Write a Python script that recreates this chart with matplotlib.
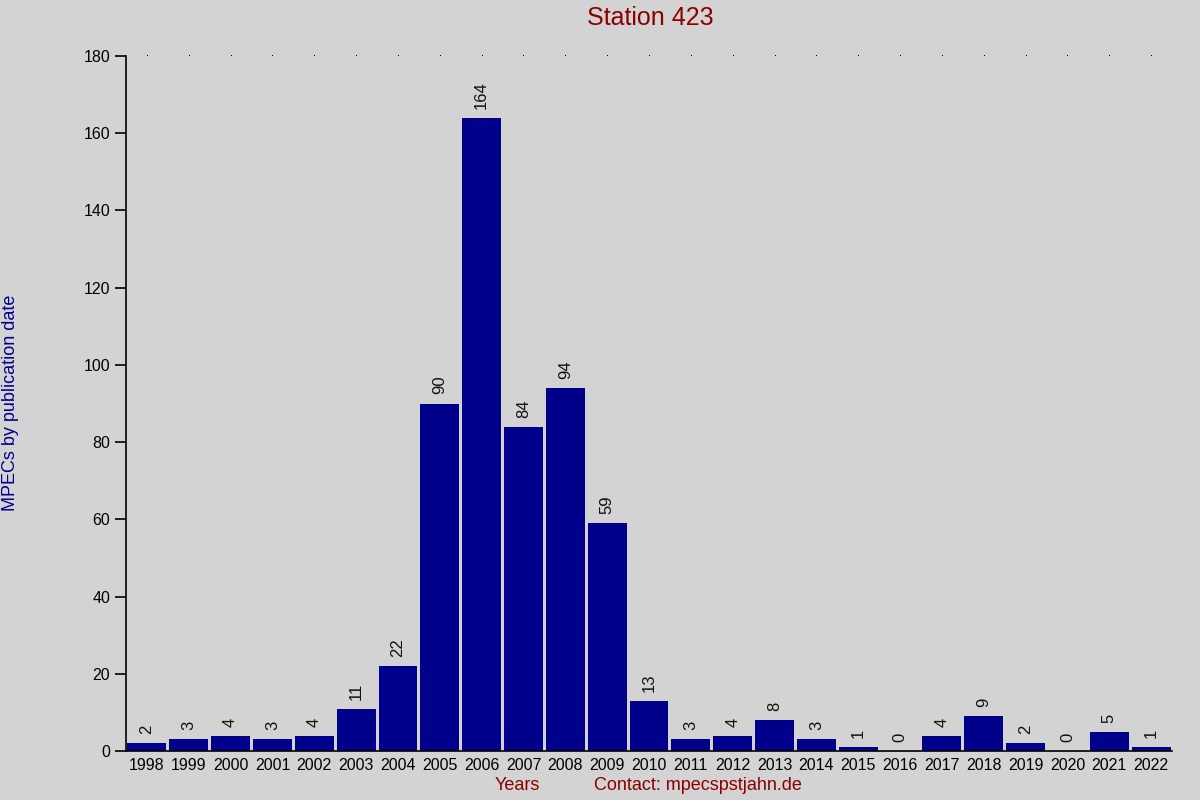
import numpy as np
import matplotlib
matplotlib.use("Agg")
import matplotlib.pyplot as plt

plt.rcParams['font.family'] = ['Liberation Sans', 'DejaVu Sans']

years = ['1998', '1999', '2000', '2001', '2002', '2003', '2004', '2005', '2006',
         '2007', '2008', '2009', '2010', '2011', '2012', '2013', '2014', '2015',
         '2016', '2017', '2018', '2019', '2020', '2021', '2022']
counts = [2, 3, 4, 3, 4, 11, 22, 90, 164, 84, 94, 59, 13, 3, 4, 8, 3, 1,
          0, 4, 9, 2, 0, 5, 1]
yticks = [0, 20, 40, 60, 80, 100, 120, 140, 160, 180]

bg = '#d3d3d3'
fig = plt.figure(figsize=(12, 8), dpi=100, facecolor=bg)
ax = fig.add_axes([126 / 1200, 49 / 800, 1046 / 1200, 695 / 800])
ax.set_facecolor(bg)

x = np.arange(len(years))
ax.bar(x, counts, width=0.93, color='#00008b', zorder=2)
for xi, c in zip(x, counts):
    ax.annotate(str(c), (xi, c), xytext=(0, 6.5), textcoords='offset points',
                rotation=90, ha='center', va='bottom', fontsize=12, color='#111111')

# sparse dots along the top line
ax.plot(x, np.full(len(x), yticks[-1]), ',', color='black', clip_on=False, zorder=1)

ax.set_xlim(-0.5, len(years) - 0.5)
ax.set_ylim(0, yticks[-1])
ax.set_xticks(x)
ax.set_xticklabels(years, fontsize=11.5)
ax.set_yticks(yticks)
ax.tick_params(axis='y', labelsize=11.5, length=8, width=1.2, direction='out')
ax.tick_params(axis='x', length=0, pad=5)
for s in ['top', 'right']:
    ax.spines[s].set_visible(False)
ax.spines['left'].set_linewidth(1.2)
ax.spines['bottom'].set_linewidth(1.2)
ax.spines['bottom'].set_bounds(-0.5, len(years) - 0.5)

fig.text(650 / 1200, 1 - 18 / 800, 'Station 423', ha='center', va='center',
         fontsize=18, color='#8b0000')
fig.text(11 / 1200, 0.5 - 3 / 800, 'MPECs by publication date', rotation=90,
         ha='center', va='center', fontsize=13, color='#00008b')
fig.text(517 / 1200, 1 - 786 / 800, 'Years', ha='center', va='center',
         fontsize=13, color='#8b0000')
fig.text(698 / 1200, 1 - 786 / 800, 'Contact: mpecspstjahn.de', ha='center',
         va='center', fontsize=13, color='#8b0000')

fig.savefig('out.png', dpi=100, facecolor=bg)
